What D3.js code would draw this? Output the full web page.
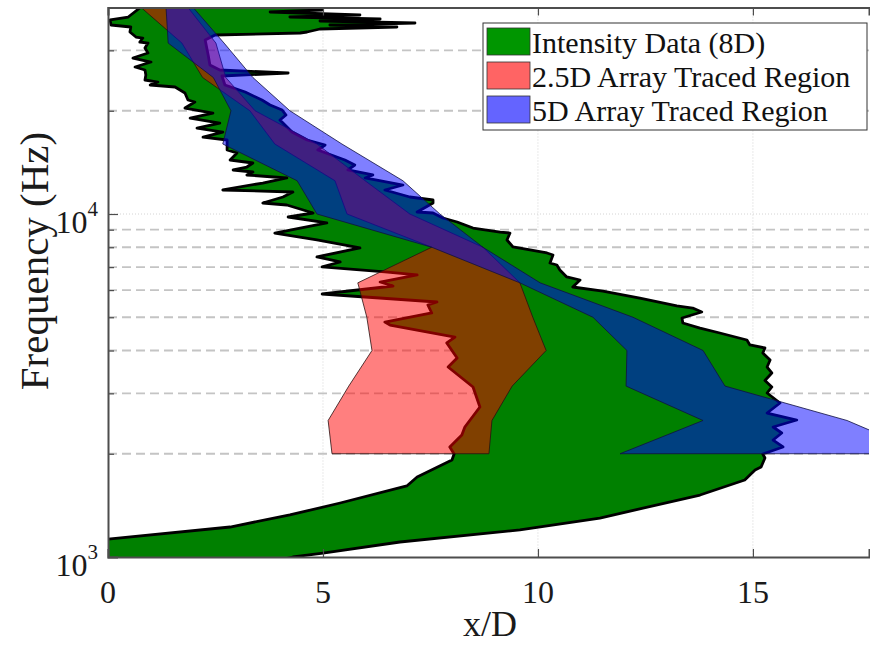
<!DOCTYPE html>
<html>
<head>
<meta charset="utf-8">
<script src="https://cdn.jsdelivr.net/npm/d3@7"></script>
<style>
body { margin: 0; background: #fff; }
svg { display: block; font-family: "Liberation Serif", "DejaVu Serif", serif; }
</style>
</head>
<body>
<div id="chart"></div>
<script>
// third-octave band centres where the traced regions have their corners
var bands = [2000, 2500, 3150, 4000, 5000, 6300, 8000, 10000, 12500, 16000, 20000, 25000, 31500, 40000];

// 2.5D array traced region, x/D limits per band
var array25Left  = [5.21, 5.12, 5.60, 6.14, 6.02, 5.81, 7.53, 5.56, 5.28, 3.88, 3.30, 2.20, 1.72, 0.77];
var array25Right = [8.86, 8.93, 9.40, 10.19, 9.88, 9.58, 8.72, 7.02, 5.98, 4.86, 3.42, 2.74, 2.51, 1.86];

// 5D array traced region, x/D limits per band
var array5Left  = [11.91, 13.84, 12.05, 12.07, 11.28, 9.58, 7.53, 4.86, 4.40, 2.67, 2.86, 2.45, 1.40, 1.35];
var array5Right = [19.0, 17.19, 14.35, 13.84, 12.21, 10.05, 8.72, 7.72, 6.86, 5.44, 4.23, 3.37, 2.70, 1.98];

// intensity contour (8D), [frequency Hz, x/D]; left edge bottom -> top
var intensityLeftEdge = [
  [980, -1.58], [1128, 0], [1223, 2.84], [1326, 4.23], [1437, 5.40], [1611, 6.95], [1711, 7.19],
  [1918, 8.0], [1997, 8.05], [2093, 7.95], [2269, 8.23], [2393, 8.30], [2737, 8.65], [3131, 8.49],
  [3580, 7.91], [3803, 8.12], [4207, 7.88], [4379, 8.07], [4746, 6.56], [4843, 6.44], [5145, 7.53],
  [5429, 7.44], [5539, 7.65], [5845, 4.98], [6168, 6.63], [6335, 6.33], [6641, 7.19], [6776, 6.44],
  [7008, 4.98], [7246, 5.40], [7494, 4.86], [7961, 5.86], [8400, 4.86], [8801, 3.88], [9415, 5.09],
  [9801, 4.19], [10068, 4.77], [10622, 4.16], [10766, 3.60], [11209, 4.07], [11590, 4.30],
  [11749, 2.67], [12313, 3.60], [12735, 4.16], [12994, 3.23], [13258, 3.37], [13438, 2.91],
  [13709, 3.23], [14083, 3.37], [14369, 2.84], [15060, 3.0], [15367, 2.77], [16433, 2.77],
  [16766, 2.21], [17338, 2.67], [17810, 2.07], [18420, 2.60], [19048, 1.91], [19699, 2.44],
  [20370, 1.79], [21206, 2.02], [21493, 1.86], [22528, 1.79], [23457, 1.56], [23774, 0.98],
  [24256, 1.16], [24587, 0.86], [25425, 0.88], [26291, 0.86], [26827, 0.63], [27741, 1.0],
  [28497, 0.58], [29471, 0.93], [30479, 0.86], [31513, 0.93], [31729, 0.74], [32590, 0.81],
  [32809, 0.65], [33932, 0.51], [35092, 0.53], [35566, 0.07], [36783, 0.05], [37527, 0.47],
  [39870, 0.74], [42070, 0.98]
];

// right edge, top -> bottom
var intensityRightEdge = [
  [42070, 5.16], [40140, 4.98], [39340, 4.98], [38811, 3.77], [38040, 5.86], [37527, 4.23],
  [37029, 6.33], [36538, 4.93], [36052, 7.14], [35566, 5.16], [35092, 6.72], [34626, 4.93],
  [33932, 4.63], [33705, 4.47], [33256, 2.49], [32157, 2.26], [29079, 2.33], [27190, 2.37],
  [26291, 2.60], [25770, 4.19], [25255, 2.65], [23774, 2.72], [22680, 3.19], [21493, 3.58],
  [20785, 3.77], [20100, 4.05], [19434, 4.14], [18795, 4.0], [17338, 4.28], [16433, 4.63],
  [15892, 5.05], [15367, 4.88], [14369, 5.51], [13896, 5.74], [13438, 5.58], [12994, 6.16],
  [12735, 5.98], [12148, 6.86], [11749, 6.44], [11209, 7.02], [10985, 7.56], [10766, 7.56],
  [10136, 7.19], [10068, 7.56], [9735, 7.79], [9478, 8.12], [9102, 8.49], [8860, 9.12],
  [8801, 9.35], [8400, 9.28], [8014, 9.42], [7698, 10.21], [7595, 10.35], [7197, 10.28],
  [7102, 10.44], [6868, 10.51], [6552, 10.67], [6421, 10.98], [6126, 10.81], [5963, 11.51],
  [5689, 12.37], [5393, 13.23], [5320, 13.6], [5179, 13.81], [4975, 13.35], [4810, 13.37],
  [4651, 13.77], [4498, 14.23], [4292, 14.86], [4151, 14.93], [4068, 15.28], [3933, 15.23],
  [3753, 15.40], [3580, 15.33], [3440, 15.44], [3271, 15.28], [3131, 15.44], [3007, 15.33],
  [2812, 15.63], [2629, 15.33], [2508, 16.02], [2393, 15.47], [2299, 15.67], [2193, 15.47],
  [2093, 15.70], [1997, 15.23], [1944, 15.28], [1829, 15.19], [1793, 15.05], [1677, 14.81],
  [1516, 13.77], [1299, 11.44], [1199, 9.58], [1106, 6.79], [1027, 5.0], [1000, 4.30], [980, 4.0]
];

var xTicks = [0, 5, 10, 15];
var yMajorTicks = [1000, 10000];
var yMajorExp = ["3", "4"];
var yMinorTicks = [2000, 3000, 4000, 5000, 6000, 7000, 8000, 9000, 20000, 30000];
var legendLabels = ["Intensity Data (8D)", "2.5D Array Traced Region", "5D Array Traced Region"];
var legendColors = ["#009600", "#ff6464", "#6464ff"];

var W = 870, H = 645;
var plotL = 108, plotR = 869, plotT = 7.5, plotB = 557;

var x = d3.scaleLinear().domain([0, 17.7]).range([plotL, plotR]);
var y = d3.scaleLog().domain([1000, 40000]).range([plotB, plotT]);

var svg = d3.select("#chart").append("svg")
  .attr("width", W).attr("height", H);

svg.append("defs").append("clipPath").attr("id", "plotClip")
  .append("rect")
  .attr("x", plotL).attr("y", plotT)
  .attr("width", plotR - plotL).attr("height", plotB - plotT);

// grid: dashed at the minor decades, dotted at the major ones
var grid = svg.append("g");
grid.selectAll(".minor").data(yMinorTicks).enter().append("line")
  .attr("x1", plotL).attr("x2", plotR)
  .attr("y1", function (d) { return y(d); }).attr("y2", function (d) { return y(d); })
  .attr("stroke", "#c4c4c4").attr("stroke-width", 1.8)
  .attr("stroke-dasharray", "9,5");
grid.selectAll(".major").data([10000]).enter().append("line")
  .attr("x1", plotL).attr("x2", plotR)
  .attr("y1", function (d) { return y(d); }).attr("y2", function (d) { return y(d); })
  .attr("stroke", "#d4d4d4").attr("stroke-width", 1)
  .attr("stroke-dasharray", "1,2");
grid.selectAll(".vgrid").data(xTicks.slice(1)).enter().append("line")
  .attr("y1", plotT).attr("y2", plotB)
  .attr("x1", function (d) { return x(d); }).attr("x2", function (d) { return x(d); })
  .attr("stroke", "#d4d4d4").attr("stroke-width", 1)
  .attr("stroke-dasharray", "1,2");

var plot = svg.append("g").attr("clip-path", "url(#plotClip)");

var line = d3.line()
  .x(function (d) { return x(d[1]); })
  .y(function (d) { return y(d[0]); });

// intensity contour
plot.append("path")
  .datum(intensityLeftEdge.concat(intensityRightEdge))
  .attr("d", function (d) { return line(d) + "Z"; })
  .attr("fill", "#008000")
  .attr("stroke", "#000")
  .attr("stroke-width", 2.8)
  .attr("stroke-linejoin", "round");

// traced band regions built from the per-band limits
function bandOutline(lo, hi) {
  var pts = bands.map(function (f, i) { return [f, lo[i]]; });
  var back = bands.map(function (f, i) { return [f, hi[i]]; }).reverse();
  return pts.concat(back);
}

plot.append("path")
  .datum(bandOutline(array25Left, array25Right))
  .attr("d", function (d) { return line(d) + "Z"; })
  .attr("fill", "#ff0000").attr("fill-opacity", 0.5)
  .attr("stroke", "#2a1010").attr("stroke-width", 0.8);

plot.append("path")
  .datum(bandOutline(array5Left, array5Right))
  .attr("d", function (d) { return line(d) + "Z"; })
  .attr("fill", "#0000ff").attr("fill-opacity", 0.5)
  .attr("stroke", "#101040").attr("stroke-width", 0.8);

// axes box
var axisColor = "#4d4d4d";
function styleAxis(g) {
  g.select(".domain").attr("stroke", axisColor).attr("stroke-width", 2);
  g.selectAll(".tick line").attr("stroke", axisColor).attr("stroke-width", 1.2);
}
svg.append("g").attr("transform", "translate(0," + plotB + ")")
  .call(d3.axisBottom(x).tickValues(xTicks).tickSize(-8).tickFormat(""))
  .call(styleAxis);
svg.append("g").attr("transform", "translate(0," + plotT + ")")
  .call(d3.axisTop(x).tickValues(xTicks).tickSize(-8).tickFormat(""))
  .call(styleAxis);
svg.append("g").attr("transform", "translate(" + plotL + ",0)")
  .call(d3.axisLeft(y).tickValues(yMajorTicks).tickSize(-10).tickFormat(""))
  .call(styleAxis);
svg.append("g").attr("transform", "translate(" + plotL + ",0)")
  .call(d3.axisLeft(y).tickValues(yMinorTicks).tickSize(-6).tickFormat(""))
  .call(function (g) {
    g.select(".domain").remove();
    g.selectAll(".tick line").attr("stroke", axisColor).attr("stroke-width", 1.2);
  });

// tick labels
svg.selectAll(".xlab").data(xTicks).enter().append("text")
  .attr("x", function (d) { return x(d); })
  .attr("y", 603)
  .attr("text-anchor", "middle")
  .attr("font-size", 32)
  .attr("fill", "#1a1a1a")
  .text(function (d) { return d; });

var ylab = svg.selectAll(".ylab").data(yMajorTicks).enter().append("text")
  .attr("x", 98)
  .attr("y", function (d) { return y(d) + 19; })
  .attr("text-anchor", "end")
  .attr("font-size", 32)
  .attr("fill", "#1a1a1a");
ylab.append("tspan").text("10");
ylab.append("tspan")
  .attr("font-size", 21).attr("dy", -17)
  .text(function (d, i) { return yMajorExp[i]; });

// axis titles
svg.append("text")
  .attr("x", 490).attr("y", 636)
  .attr("text-anchor", "middle")
  .attr("font-size", 36)
  .attr("fill", "#1a1a1a")
  .text("x/D");

svg.append("text")
  .attr("transform", "translate(48,261) rotate(-90)")
  .attr("text-anchor", "middle")
  .attr("font-size", 41)
  .attr("fill", "#1a1a1a")
  .text("Frequency (Hz)");

// legend
var legend = svg.append("g").attr("transform", "translate(483,23)");
legend.append("rect")
  .attr("width", 384).attr("height", 107)
  .attr("fill", "#fff").attr("stroke", "#333").attr("stroke-width", 1);
var rows = legend.selectAll(".row").data(legendLabels).enter().append("g")
  .attr("transform", function (d, i) { return "translate(4," + (5 + i * 34) + ")"; });
rows.append("rect")
  .attr("width", 43).attr("height", 27)
  .attr("fill", function (d, i) { return legendColors[i]; })
  .attr("stroke", "#333").attr("stroke-width", 0.8);
rows.append("text")
  .attr("x", 45).attr("y", 25)
  .attr("font-size", 30)
  .attr("fill", "#111")
  .text(function (d) { return d; });
</script>
</body>
</html>
